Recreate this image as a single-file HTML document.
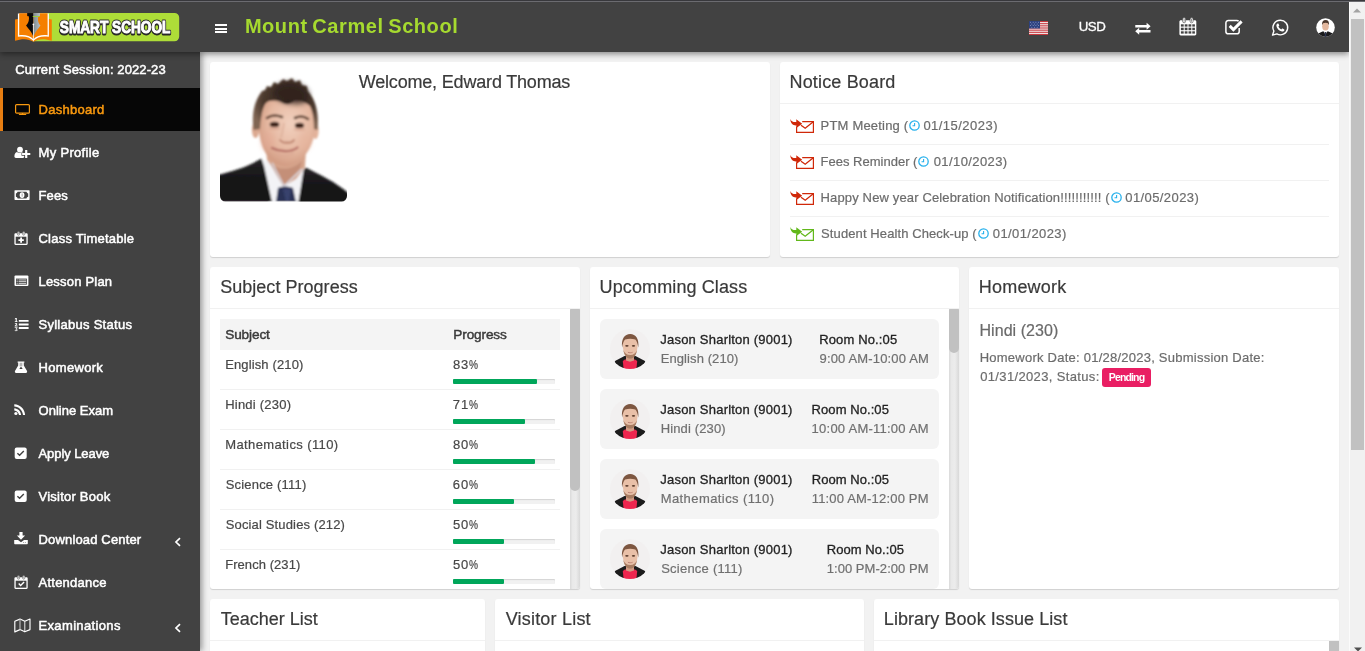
<!DOCTYPE html>
<html lang="en">
<head>
<meta charset="utf-8">
<title>Smart School : Mount Carmel School</title>
<style>
*{box-sizing:border-box;margin:0;padding:0}
html,body{width:1365px;height:651px;overflow:hidden;background:#f2f2f2}
body{font-family:"Liberation Sans",Arial,sans-serif;font-size:13px;color:#444;position:relative;line-height:18px}
ul{list-style:none}
a{text-decoration:none;color:inherit}
svg{display:block;overflow:visible}
.abs{position:absolute}
.edge{position:absolute;left:0;top:0;width:1365px;height:2px;background:linear-gradient(#38383c 0,#38383c 50%,#6b6b70 50%,#6b6b70 100%);z-index:50}
/* header */
.main-header{position:absolute;left:0;top:2px;width:1349px;height:50px;background:#424242;z-index:30;box-shadow:0 2px 6px rgba(0,0,0,.45)}
.logo{position:absolute;left:14px;top:9px;width:166px;height:32px}
.toggle{position:absolute;left:215px;top:22px;width:12px;height:10px}
.toggle i{display:block;height:2px;background:#fff;margin-bottom:1.500px}
.school{position:absolute;left:244.200px;top:11.100px;height:26px;line-height:26px;font-size:20px;font-weight:700;color:#a6da2f;white-space:nowrap;letter-spacing:.6px;word-spacing:-1.400px}
.usd{position:absolute;left:1078px;top:14.600px;line-height:20px;font-size:13.3px;color:#fff;white-space:nowrap;-webkit-text-stroke:.3px #fff}
.main-header svg.ti{position:absolute}
/* sidebar */
.main-sidebar{position:absolute;left:0;top:52px;width:200px;height:599px;background:#424242;z-index:20;box-shadow:2px 0 6px rgba(0,0,0,.4)}
.session{position:absolute;left:15px;top:8px;line-height:20px;font-size:13px;color:#fff;white-space:nowrap;-webkit-text-stroke:.5px #fff}
.sidebar-menu{position:absolute;left:0;top:36px;width:200px}
.sidebar-menu li{position:relative;height:43px}
.sidebar-menu li a{display:block;height:43px;line-height:43px;color:#fff;white-space:nowrap;font-size:13px}
.sidebar-menu li svg.ic{position:absolute;left:13px;top:13px}
.sidebar-menu li span.t{position:absolute;left:38.500px;top:0;-webkit-text-stroke:.5px currentColor;letter-spacing:.15px}
.sidebar-menu li.active{background:#060606}
.sidebar-menu li.active:before{content:"";position:absolute;left:0;top:0;width:3px;height:43px;background:#e67e12}
.sidebar-menu li.active a{color:#f9990f}
.sidebar-menu li svg.chev{position:absolute;left:173.500px;top:18.800px}
/* content */
.box{position:absolute;background:#fff;border-radius:3px;box-shadow:0 1px 1px rgba(0,0,0,.14);overflow:hidden}
.box-header{position:absolute;left:0;top:0;right:0;height:42px;border-bottom:1px solid #f1f1f1}
.box-title{position:absolute;left:10px;top:9px;font-size:18px;line-height:22px;font-weight:400;color:#3a3a3a;-webkit-text-stroke:.2px #3a3a3a;white-space:nowrap}
#welcome{left:148px;top:9px}
.muted{color:#707070}
.sb{position:absolute;background:linear-gradient(90deg,#dadada 0,#e9e9e9 25%,#ececec 60%,#d8d8d8 100%);width:10px}
.sb i{position:absolute;left:0;top:0;width:10px;background:#c1c1c1;border-radius:1px 1px 5px 5px}
/* notice */
.notice{position:absolute;left:10px;top:46.700px;width:539px}
.notice li{position:relative;height:36px;border-bottom:1px solid #f1f1f1;color:#6c6c6c;-webkit-text-stroke:.2px #6c6c6c;font-size:13px;line-height:36px;white-space:nowrap}
.notice li:last-child{border-bottom:0}
.notice li svg.env{position:absolute;left:0;top:10px}
.notice li .nt{position:absolute;left:30.600px;top:-1.200px}
.notice li svg.clk{display:inline-block;vertical-align:-1.8px;margin:0 2.800px 0 .9px}
/* subject table */
.tbl{position:absolute;left:10px;top:52px;width:340px;font-size:13px}
.tbl .th{position:relative;height:31px;background:#f4f4f4;font-size:13.600px;color:#3a3a3a;-webkit-text-stroke:.45px #3a3a3a}
.tbl .tr{position:relative;height:40px;border-bottom:1px solid #f1f1f1;color:#484848;-webkit-text-stroke:.2px #484848}
.tbl span{position:absolute;top:5px;line-height:19px;white-space:nowrap}
.tbl .th span{top:6px}
.tbl .c1{left:5px}
.tbl .c2{left:233.500px}
.tbl .pc{display:inline-block;font-style:normal;transform:scaleX(.78);transform-origin:0 50%;margin-right:-2.5px}
.progress{position:absolute;left:233px;top:29px;width:102px;height:5px;background:#f1f1f1;border-radius:1px;box-shadow:inset 0 1px 1px rgba(0,0,0,.12)}
.progress i{display:block;height:5px;background:#00a65a;border-radius:1px}
/* classes */
.cls{position:absolute;left:10px;width:339px;height:60px;background:#f4f4f4;border-radius:6px}
.cls svg.av{position:absolute;left:10px;top:10px}
.cls span{position:absolute;white-space:nowrap;line-height:19px;font-size:13px}
.cls .n{left:60.500px;top:10.500px;color:#222;-webkit-text-stroke:.3px #222}
.cls .s{left:60.500px;top:29.500px;color:#707070;-webkit-text-stroke:.2px #707070}
.cls .rt{position:absolute;top:0}
.cls .r{left:0;top:10.500px;color:#222;-webkit-text-stroke:.3px #222}
.cls .tm{left:0;top:29.500px;color:#707070;-webkit-text-stroke:.2px #707070}
/* homework */
.hw-t{position:absolute;left:10.500px;top:53.600px;font-size:16px;line-height:20px;color:#6a6a6a;-webkit-text-stroke:.2px #6a6a6a;white-space:nowrap}
.hw-d{position:absolute;left:10.500px;top:81px;width:340px;height:40px;font-size:13px;color:#6c6c6c;-webkit-text-stroke:.2px #6c6c6c;white-space:nowrap}
.hw-d .l1{position:absolute;left:0;top:0;line-height:19px}
.hw-d .l2{position:absolute;left:0;top:19px;line-height:19px}
.label{position:absolute;left:122.500px;top:20.300px;width:49px;height:19px;line-height:19px;text-align:center;font-size:10.500px;color:#fff;-webkit-text-stroke:0 transparent;background:#e91e63;border-radius:3px}
.label b{font-weight:700;-webkit-text-stroke:0 transparent}
</style>
</head>
<body>
<div class="edge"></div>
<svg width="0" height="0" style="position:absolute"><defs><clipPath id="cpt"><circle cx="20" cy="20" r="20"/></clipPath><filter id="blt" x="-10%" y="-10%" width="120%" height="120%"><feGaussianBlur stdDeviation=".55"/></filter></defs></svg>

<header class="main-header">
  <a class="logo" href="#">
    <svg class="abs" style="left:0;top:0" width="166" height="32" viewBox="0 0 166 32">
      <defs><linearGradient id="nib" x1="0" y1="0" x2="1" y2="0"><stop offset="0" stop-color="#7f8a8e"/><stop offset="1" stop-color="#b4c0c5"/></linearGradient></defs>
      <path d="M19 1.900h141.500a4.700 4.700 0 0 1 4.700 4.700v19a4.700 4.700 0 0 1-4.700 4.700h-141.500z" fill="#aedd38"/>
      <path d="M1 8.600l3-.6h30.800l3 .6v21.200c-7-2.400-13.500-2.300-18.400.9-4.900-3.200-11.400-3.300-18.400-.9z" fill="#f57f00"/>
      <path d="M3.900 2.500h31v23.300c-6.500-1-11.700 0-15.500 4-3.800-4-9-5-15.500-4z" fill="#fff"/>
      <path d="M5.200 2.200h8.300l5.900.2 5.900-.2h8.300v22.100c-6-.7-10.700.6-14.200 3.900-3.500-3.300-8.200-4.600-14.200-3.900z" fill="#f57f00"/>
      <path d="M13.200 2.200h6.200v22.500l-.6-.3c-.7-2-1.700-3.700-3-5.200-1.200-1.500-2.500-3.100-3.750-4.700 1.600-1.600 2.700-3.400 2.950-7 0-1.700-.6-3.300-1.500-4.700z" fill="#0a0a0a"/>
      <path d="M26 2.200h-6.600v22.500l.6-.3c.7-2 1.600-3.700 2.800-5.200 1.200-1.500 2.500-3.100 3.600-4.700-1.500-1.600-2.400-3.400-2.500-7 .1-1.700.7-3.300 1.800-4.700z" fill="url(#nib)"/>
      <rect x="13.200" y="2.200" width="6.200" height="2.900" fill="#0a0a0a"/><rect x="19.400" y="2.200" width="6.500" height="2.900" fill="url(#nib)"/><path d="M18.700 5.500h6.800" stroke="#9fd533" stroke-width=".9"/>
      <path d="M19.400 13.500v16.700" stroke="#fff" stroke-width=".8"/>
      <circle cx="19.400" cy="13.300" r=".9" fill="#fff"/>
      <g font-family="Liberation Sans, Arial, sans-serif" font-weight="700" font-size="16.200">
        <text x="45.800" y="22.800" textLength="110.600" lengthAdjust="spacingAndGlyphs" fill="#2a2a2a" stroke="#2a2a2a" stroke-width="2.800" stroke-linejoin="round">SMART SCHOOL</text>
        <text x="45.800" y="21.900" textLength="110.600" lengthAdjust="spacingAndGlyphs" fill="#2a2a2a" stroke="#2a2a2a" stroke-width="2.800" stroke-linejoin="round">SMART SCHOOL</text>
        <text x="45.800" y="21.900" textLength="110.600" lengthAdjust="spacingAndGlyphs" fill="#fff" stroke="#fff" stroke-width=".95">SMART SCHOOL</text>
      </g>
    </svg>
  </a>
  <a class="toggle" href="#"><i></i><i></i><i></i></a>
  <span class="school" style="letter-spacing:0.56px;margin-left:0.7px">Mount Carmel School</span>
  <svg class="ti" style="left:1029px;top:19px" width="19" height="14" viewBox="0 0 19 14">
    <rect width="19" height="14" fill="#f3f3f3"/>
    <g fill="#c8363c"><rect y="0" width="19" height="1.100"/><rect y="2.150" width="19" height="1.100"/><rect y="4.300" width="19" height="1.100"/><rect y="6.450" width="19" height="1.100"/><rect y="8.600" width="19" height="1.100"/><rect y="10.750" width="19" height="1.100"/><rect y="12.900" width="19" height="1.100"/></g>
    <rect width="11" height="7.500" fill="#2d4280"/>
    <g fill="#8f9cc4"><circle cx="1.500" cy="1.200" r=".5"/><circle cx="4.200" cy="1.200" r=".5"/><circle cx="6.900" cy="1.200" r=".5"/><circle cx="9.500" cy="1.200" r=".5"/><circle cx="2.800" cy="2.900" r=".5"/><circle cx="5.500" cy="2.900" r=".5"/><circle cx="8.200" cy="2.900" r=".5"/><circle cx="1.500" cy="4.600" r=".5"/><circle cx="4.200" cy="4.600" r=".5"/><circle cx="6.900" cy="4.600" r=".5"/><circle cx="9.500" cy="4.600" r=".5"/><circle cx="2.800" cy="6.200" r=".5"/><circle cx="5.500" cy="6.200" r=".5"/><circle cx="8.200" cy="6.200" r=".5"/></g>
  </svg>
  <span class="usd" style="letter-spacing:-0.45px;margin-left:0.7px">USD</span>
  <svg class="ti" style="left:1134.7px;top:19.6px" width="15.8" height="13" viewBox="0 0 17 14"><g fill="#fff"><path d="M.3 3.100h12.200v-2.400l4.300 3.800-4.300 3.800v-2.400h-12.200z"/><path d="M16.700 8.600h-12.200v-2.400l-4.300 3.800 4.300 3.800v-2.400h12.200z"/></g></svg>
  <svg class="ti" style="left:1179px;top:15px" width="18" height="19" viewBox="0 0 18 19"><path d="M1.800 3.300h14.100c.8 0 1.400.6 1.400 1.400v12.300c0 .8-.6 1.400-1.400 1.400h-14.100c-.8 0-1.400-.6-1.400-1.400v-12.300c0-.8.600-1.400 1.400-1.400z" fill="#fff"/><g fill="#424242"><rect x="1.900" y="7.300" width="2.800" height="2.300"/><rect x="5.700" y="7.300" width="2.800" height="2.300"/><rect x="9.500" y="7.300" width="2.800" height="2.300"/><rect x="13.300" y="7.300" width="2.600" height="2.300"/><rect x="1.900" y="10.700" width="2.800" height="2.500"/><rect x="5.700" y="10.700" width="2.800" height="2.500"/><rect x="9.500" y="10.700" width="2.800" height="2.500"/><rect x="13.300" y="10.700" width="2.600" height="2.500"/><rect x="1.900" y="14.300" width="2.800" height="2.300"/><rect x="5.700" y="14.300" width="2.800" height="2.300"/><rect x="9.500" y="14.300" width="2.800" height="2.300"/><rect x="13.300" y="14.300" width="2.600" height="2.300"/></g><rect x="3.600" y=".6" width="3" height="5.200" rx="1.500" fill="#fff" stroke="#424242" stroke-width=".6"/><rect x="11.100" y=".6" width="3" height="5.200" rx="1.500" fill="#fff" stroke="#424242" stroke-width=".6"/><rect x="4.700" y="1.600" width=".8" height="3.100" fill="#777"/><rect x="12.200" y="1.600" width=".8" height="3.100" fill="#777"/></svg>
  <svg class="ti" style="left:1225.3px;top:17.3px" width="19" height="16" viewBox="0 0 19 16"><path d="M13.600 2.300c-.4-.5-1-.8-1.800-.8h-8.500c-1.400 0-2.400 1-2.400 2.400v8.500c0 1.400 1 2.400 2.400 2.400h8.500c1.400 0 2.400-1 2.400-2.400v-3.400" fill="none" stroke="#fff" stroke-width="1.500"/><path d="M4.700 6.900l3.700 3.700 8.200-8.200" fill="none" stroke="#fff" stroke-width="2.9"/></svg>
  <svg class="ti" style="left:1271px;top:16.500px" width="18" height="18" viewBox="0 0 18 18"><path d="M9.300 1.200a7.300 7.300 0 0 0-6.400 10.900l-1.400 4.100 4.400-1.300a7.300 7.300 0 1 0 3.400-13.700z" fill="none" stroke="#fff" stroke-width="1.400" stroke-linejoin="round"/><path d="M6.500 4.600c.3-.3.800-.3 1 .1l.7 1.500c.1.300.1.600-.2.800l-.6.600c.5 1.200 1.600 2.300 2.800 2.800l.7-.7c.2-.2.500-.3.800-.1l1.500.8c.3.200.4.600.2.900-.5.900-1.400 1.400-2.400 1.200-3.100-.6-5.200-3.200-5.600-5.600-.1-.9.300-1.700 1.100-2.300z" fill="#fff"/></svg>
  <svg class="ti" style="left:1316px;top:15.500px" width="19" height="19" viewBox="0 0 19 19"><defs><clipPath id="cpa"><circle cx="9.500" cy="9.500" r="9.300"/></clipPath></defs><g clip-path="url(#cpa)"><rect width="19" height="19" fill="#fff"/><path d="M0 19v-2.500l6.500-3h6l6.500 3v2.500z" fill="#1a1a1c"/><path d="M7.600 12.500l1.900 4.500 1.900-4.500z" fill="#fff"/><path d="M9 14h1l.4 5h-1.800z" fill="#2b3350"/><ellipse cx="9.500" cy="8.300" rx="3.300" ry="4.300" fill="#e3b79d"/><path d="M6 7.300c-.3-3.600 1.200-5.300 3.600-5.300 2.500 0 3.800 1.700 3.400 5.300-.6-1.900-1.100-2.600-3.400-2.600-2.400 0-3 .7-3.600 2.600z" fill="#4b372b"/></g></svg>
</header>

<aside class="main-sidebar">
  <div class="session" style="letter-spacing:0.10px;margin-left:0.2px">Current Session: 2022-23</div>
  <ul class="sidebar-menu">
    <li class="active"><a href="#"><svg class="ic" width="18" height="17" viewBox="0 0 18 17"><rect x="2.6" y="3.6" width="13.8" height="8.6" rx="1" fill="none" stroke="currentColor" stroke-width="1.2"/><rect x="8.9" y="12" width="1.3" height="1.4" fill="currentColor"/><rect x="5.8" y="13.1" width="7.5" height="1" rx=".4" fill="currentColor"/></svg><span class="t" style="letter-spacing:0.28px">Dashboard</span></a></li>
    <li><a href="#"><svg class="ic" width="18" height="17" viewBox="0 0 18 17"><circle cx="7" cy="5.700" r="2.900" fill="currentColor"/><path d="M1.4 12.6c0-2.6 1-4.3 2.6-4.6.7.6 1.5.9 2.4.9s1.700-.3 2.400-.9c1.600.3 2.600 2 2.600 4.600 0 .9-.6 1.400-1.500 1.400h-7c-.9 0-1.500-.5-1.500-1.400z" fill="currentColor"/><path d="M12.100 6.100h2.200v2.900h3v2.100h-3v2.900h-2.200v-2.900h-3v-2.100h3z" fill="currentColor" stroke="#424242" stroke-width="1.200" paint-order="stroke"/></svg><span class="t" style="letter-spacing:0.32px">My Profile</span></a></li>
    <li><a href="#"><svg class="ic" width="18" height="17" viewBox="0 0 18 17"><rect x="1.5" y="3.200" width="15.100" height="9.700" rx=".6" fill="currentColor"/><path d="M4.600 4.700h8.900c.2.900.8 1.500 1.700 1.700v3.300c-.9.200-1.500.8-1.700 1.700h-8.900c-.2-.9-.8-1.500-1.700-1.700v-3.300c.9-.2 1.500-.8 1.700-1.700z" fill="#424242"/><ellipse cx="9.050" cy="8.050" rx="2.400" ry="2.900" fill="currentColor"/><rect x="8.700" y="6.500" width=".8" height="3.100" fill="#8a8a8a"/></svg><span class="t">Fees</span></a></li>
    <li><a href="#"><svg class="ic" width="18" height="17" viewBox="0 0 18 17"><path d="M2.600 3.200h10.900c.7 0 1.200.5 1.200 1.200v9.400c0 .7-.5 1.200-1.200 1.200h-10.900c-.7 0-1.200-.5-1.200-1.200v-9.400c0-.7.5-1.200 1.200-1.200z" fill="currentColor"/><rect x="2.700" y="6.700" width="10.700" height="7" fill="#424242"/><rect x="4.400" y="1.400" width="2.200" height="3.800" rx="1.100" fill="currentColor" stroke="#424242" stroke-width=".5"/><rect x="9.600" y="1.400" width="2.200" height="3.800" rx="1.100" fill="currentColor" stroke="#424242" stroke-width=".5"/><rect x="5.200" y="1.900" width=".7" height="2.500" rx=".3" fill="#8e8e8e"/><rect x="10.400" y="1.900" width=".7" height="2.500" rx=".3" fill="#8e8e8e"/><path d="M7.200 7.600h1.800v1.700h1.800v1.700h-1.800v1.700h-1.800v-1.700h-1.800v-1.700h1.800z" fill="currentColor"/></svg><span class="t" style="letter-spacing:0.22px">Class Timetable</span></a></li>
    <li><a href="#"><svg class="ic" width="18" height="17" viewBox="0 0 18 17"><rect x="1.500" y="2.500" width="13.900" height="10.500" rx="1" fill="currentColor"/><rect x="3" y="5.600" width="10.900" height="6" fill="#424242"/><g fill="currentColor" opacity=".85"><rect x="5.600" y="6.500" width="7.600" height=".9"/><rect x="5.600" y="8.200" width="7.600" height=".9"/><rect x="5.600" y="9.900" width="7.600" height=".9"/><rect x="3.600" y="6.500" width="1.100" height=".9"/><rect x="3.600" y="8.200" width="1.100" height=".9"/><rect x="3.600" y="9.900" width="1.100" height=".9"/></g></svg><span class="t" style="letter-spacing:0.20px">Lesson Plan</span></a></li>
    <li><a href="#"><svg class="ic" width="18" height="17" viewBox="0 0 18 17"><g fill="currentColor"><rect x="5.800" y="3.900" width="9.800" height="1.900" rx=".3"/><rect x="5.800" y="7.500" width="9.800" height="1.900" rx=".3"/><rect x="5.800" y="11.100" width="9.800" height="1.900" rx=".3"/><path d="M2.700 1.900h1.100v3.300h.7v.8h-2.700v-.8h.9v-2.100l-.8.3v-.8z"/><path d="M1.700 7.600c.4-.6 1.900-.7 2.400-.1.500.6.100 1.300-1 2.100h1.500v.8h-2.900v-.7c.9-.7 1.500-1.300 1.300-1.600-.2-.3-.7-.1-.9.200z" opacity=".9"/><path d="M1.700 11.200h2.800v.7l-.9 1c.7.200 1 .6 1 1.100 0 .8-.7 1.200-1.600 1.200-.6 0-1.100-.2-1.400-.5l.4-.7c.5.500 1.600.5 1.600 0 0-.4-.5-.5-1.100-.5v-.6l.8-.9h-1.600z" opacity=".9"/></g></svg><span class="t" style="letter-spacing:0.27px">Syllabus Status</span></a></li>
    <li><a href="#"><svg class="ic" width="18" height="17" viewBox="0 0 18 17"><path d="M5 2.500h6c.4 0 .6.200.6.500s-.2.600-.6.600h-.2v3l3.100 5.200c.6 1 .1 2.200-1.100 2.200h-9.600c-1.200 0-1.700-1.200-1.100-2.200l3.100-5.200v-3h-.2c-.4 0-.6-.3-.6-.6s.2-.5.600-.5z" fill="currentColor"/><path d="M6.600 3.800h2.800v2.900l.3.500h-3.400l.3-.5z" fill="#b5b5b5"/><path d="M8 7.400l1.700 2.600h-3.400z" fill="#424242"/></svg><span class="t" style="letter-spacing:0.32px">Homework</span></a></li>
    <li><a href="#"><svg class="ic" width="18" height="17" viewBox="0 0 18 17"><circle cx="2.900" cy="11.500" r="1.600" fill="currentColor"/><path d="M1.300 6.300v2.100c2.500.1 4.500 2.100 4.700 4.700h2.100c-.2-3.700-3.100-6.600-6.800-6.800z" fill="currentColor"/><path d="M1.300 2.300v2.100c4.700.2 8.500 4 8.700 8.700h2.100c-.2-5.900-4.900-10.600-10.800-10.800z" fill="currentColor"/></svg><span class="t" style="letter-spacing:0.02px">Online Exam</span></a></li>
    <li><a href="#"><svg class="ic" width="18" height="17" viewBox="0 0 18 17"><rect x="1.700" y="2.500" width="12" height="11.500" rx="2" fill="currentColor"/><path d="M4.400 8.200l2.200 2.100 4.200-4.200" fill="none" stroke="#424242" stroke-width="1.400"/></svg><span class="t" style="letter-spacing:-0.07px">Apply Leave</span></a></li>
    <li><a href="#"><svg class="ic" width="18" height="17" viewBox="0 0 18 17"><rect x="1.700" y="2.500" width="12" height="11.500" rx="2" fill="currentColor"/><path d="M4.400 8.200l2.200 2.100 4.200-4.200" fill="none" stroke="#424242" stroke-width="1.400"/></svg><span class="t" style="letter-spacing:0.23px">Visitor Book</span></a></li>
    <li><a href="#"><svg class="ic" width="18" height="17" viewBox="0 0 18 17"><path d="M6.400 1h3.200v3.600h2.500l-4.100 4.200-4.100-4.200h2.500z" fill="currentColor"/><path d="M1.200 9h3.800l3 2.300 3-2.300h3.800v3.500c0 .4-.3.700-.7.700h-12.200c-.4 0-.7-.3-.7-.7z" fill="currentColor"/><rect x="10" y="11.100" width="1.100" height=".7" fill="#8a8a8a"/><rect x="11.900" y="11.100" width="1.100" height=".7" fill="#8a8a8a"/></svg><span class="t" style="letter-spacing:0.16px">Download Center</span><svg class="chev" width="8" height="10" viewBox="0 0 8 10"><path d="M6 1.200L2 5l4 3.800" fill="none" stroke="#fff" stroke-width="1.700"/></svg></a></li>
    <li><a href="#"><svg class="ic" width="18" height="17" viewBox="0 0 18 17"><path d="M2.600 3.200h10.900c.7 0 1.200.5 1.200 1.200v9.400c0 .7-.5 1.200-1.200 1.200h-10.900c-.7 0-1.200-.5-1.200-1.200v-9.400c0-.7.5-1.200 1.200-1.200z" fill="currentColor"/><rect x="2.700" y="6.700" width="10.700" height="7" fill="#424242"/><rect x="4.400" y="1.400" width="2.200" height="3.800" rx="1.100" fill="currentColor" stroke="#424242" stroke-width=".5"/><rect x="9.600" y="1.400" width="2.200" height="3.800" rx="1.100" fill="currentColor" stroke="#424242" stroke-width=".5"/><rect x="5.200" y="1.900" width=".7" height="2.500" rx=".3" fill="#8e8e8e"/><rect x="10.400" y="1.900" width=".7" height="2.500" rx=".3" fill="#8e8e8e"/><path d="M5.200 10.100l1-1 1.400 1.400 3-3 1 1-4 4z" fill="currentColor"/></svg><span class="t" style="letter-spacing:0.25px">Attendance</span></a></li>
    <li><a href="#"><svg class="ic" width="18" height="17" viewBox="0 0 18 17"><path d="M1.800 4.300l5.200-2.200 4.800 2.200 5.200-2.300v10.600l-5.200 2.200-4.800-2.200-5.200 2.300z" fill="none" stroke="currentColor" stroke-width="1.150" stroke-linejoin="round"/><path d="M7 2.300v10.200" stroke="#b8b8b8" stroke-width="1.200"/><path d="M11.800 4.400v10.200" stroke="currentColor" stroke-width="1" opacity=".9"/></svg><span class="t" style="letter-spacing:0.35px">Examinations</span><svg class="chev" width="8" height="10" viewBox="0 0 8 10"><path d="M6 1.200L2 5l4 3.800" fill="none" stroke="#fff" stroke-width="1.700"/></svg></a></li>
  </ul>
</aside>

<main class="content">
  <section class="box" id="b-welcome" style="left:210px;top:62px;width:560px;height:195px">
    <svg class="abs" style="left:10px;top:13px" width="127" height="127" viewBox="0 0 127 127">
      <defs>
        <clipPath id="cps"><path d="M0 0h127v121a5.500 5.500 0 0 1-5.500 5.500h-116a5.500 5.500 0 0 1-5.500-5.500z"/></clipPath>
        <filter id="bl1" x="-10%" y="-10%" width="120%" height="120%"><feGaussianBlur stdDeviation=".9"/></filter>
        <filter id="bl2" x="-20%" y="-20%" width="140%" height="140%"><feGaussianBlur stdDeviation="2.500"/></filter>
        <radialGradient id="skin" cx=".55" cy=".42" r=".62"><stop offset="0" stop-color="#f1d0be"/><stop offset=".6" stop-color="#e6b9a2"/><stop offset="1" stop-color="#cf977e"/></radialGradient>
        <radialGradient id="hairg" cx=".55" cy=".45" r=".6"><stop offset="0" stop-color="#33261f"/><stop offset=".65" stop-color="#4a382d"/><stop offset="1" stop-color="#806553"/></radialGradient>
        <linearGradient id="suitg" x1="0" y1="0" x2="0" y2="1"><stop offset="0" stop-color="#262425"/><stop offset=".4" stop-color="#19181a"/><stop offset="1" stop-color="#121113"/></linearGradient>
      </defs>
      <g clip-path="url(#cps)">
        <rect width="127" height="127" fill="#fff"/>
        <g filter="url(#bl1)">
          <!-- shirt -->
          <path d="M42 84l10 4 12 22 18-16 3 2-5 34h-30z" fill="#f3f3f6"/>
          <!-- neck -->
          <path d="M46 74h40l-1 18-9 12-12 7-8-14-9-12z" fill="#d6a48b"/>
          <path d="M50 88c8 8 22 8 32-2l-2 8-10 11-7 6-7-12z" fill="#c48f78"/>
          <!-- ears -->
          <ellipse cx="35.500" cy="55" rx="3.600" ry="8" fill="#dba88f"/>
          <ellipse cx="95.500" cy="56" rx="3.200" ry="8" fill="#e3b39b"/>
          <!-- face -->
          <path d="M38 40c0-15 12-22 29-22s29 7 29 22c0 15-2 26-8 36s-14 15-22 15-16-5-21-14-7-22-7-37z" fill="url(#skin)"/>
          <!-- cheek / shade -->
          <ellipse cx="48" cy="66" rx="7" ry="10" fill="#e3a994" opacity=".5" filter="url(#bl2)"/>
          <ellipse cx="85" cy="66" rx="6" ry="9" fill="#e6b29c" opacity=".45" filter="url(#bl2)"/>
          <!-- hair -->
          <path d="M33.5 55C31.5 40 34 26 42 16l3-1 2-4 4 1 3-5 4 2 5-5 4 2 5-3 3 4 5-2 2 5 5 1 1 5C96 25 99.5 40 97.5 55L94 54C94 44 93 37 90 31 86 27 80 25 74 26 70 30 65 30 61 27 55 25 50 25 46 28 42 33 41 43 40 54Z" fill="url(#hairg)"/>
          <path d="M58 10c8-5 22-4 30 6 3 6 0 12-8 13-9 1-20-2-26-8-2-4 0-8 4-11z" fill="#2e221c" opacity=".8" filter="url(#bl2)"/>
          <!-- brows -->
          <path d="M47 43c4-3 10-3 15-1M75 43c4-2 9-2 13 1" stroke="#5f4232" stroke-width="2.600" fill="none" stroke-linecap="round"/>
          <!-- eyes -->
          <ellipse cx="54.500" cy="49.500" rx="4.800" ry="2.700" fill="#3f281f"/>
          <ellipse cx="79.500" cy="50.500" rx="4.600" ry="2.700" fill="#3f281f"/>
          <ellipse cx="54.500" cy="53.500" rx="6" ry="1.500" fill="#d9a48e" opacity=".7"/>
          <ellipse cx="79.500" cy="54.500" rx="6" ry="1.500" fill="#d9a48e" opacity=".7"/>
          <!-- nose -->
          <path d="M60 65c2 2.500 5 3 7 2.600 2 .4 5 0 7-2.600" stroke="#bf8570" stroke-width="2" fill="none" stroke-linecap="round"/>
          <path d="M64 48c-1 6-2 11-3 15" stroke="#dcae98" stroke-width="2" fill="none" opacity=".7"/>
          <!-- mouth -->
          <path d="M52 73c4 2 9 3.200 13 3.200 5 0 9-1 12.500-3.700" stroke="#b46a62" stroke-width="2.200" fill="none" stroke-linecap="round"/>
          <path d="M56 79c5 2 12 2 18-1" stroke="#dba693" stroke-width="2" fill="none" opacity=".6"/>
          <!-- collar shadow -->
          <path d="M52 88l12 23 18-17" stroke="#d9d9e0" stroke-width="1.500" fill="none"/>
          <!-- tie -->
          <path d="M58 113c4-2 10-2 15 0l3 14h-20z" fill="#2a3356"/>
          <path d="M63 114l3 13h3l2-13z" fill="#3d4a78" opacity=".7"/>
          <!-- suit -->
          <path d="M-3 100c14-3 30-8 44.500-16.500l2.500 7.500 8 36h-55z" fill="url(#suitg)"/>
          <path d="M83.500 95.500l2-3c12 6 30 14 44.500 27v10h-52l2-12z" fill="url(#suitg)"/>
        </g>
      </g>
    </svg>
    <h3 class="box-title" id="welcome" style="letter-spacing:-0.18px;margin-left:0.7px">Welcome, Edward Thomas</h3>
  </section>

  <section class="box" id="b-notice" style="left:780px;top:62px;width:559px;height:195px">
    <div class="box-header"><h3 class="box-title" style="letter-spacing:0.16px;margin-left:-0.5px">Notice Board</h3></div>
    <ul class="notice">
      <li><svg class="env" width="25" height="15" viewBox="0 0 25 15"><g fill="none" stroke="#d02809" stroke-width="1.200"><path d="M6.600 7.500v5.800h16.800v-10.700h-11.200"/><path d="M11 6.200l4.200 3.100 7.800-6.300" stroke-width="1.300"/></g><path d="M.2-.3c.7 2.5 2.8 3.5 6.1 3.3v-2.7l5.9 4.4-5.8 4.3v-2.6c-3.7.2-5.9-2.1-6.2-6.7z" fill="#d02809"/></svg><span class="nt"><span style="letter-spacing:0.19px">PTM Meeting (</span><svg class="clk" width="11" height="11" viewBox="0 0 11 11"><circle cx="5.500" cy="5.500" r="4.700" fill="none" stroke="#27b1ec" stroke-width="1.300"/><path d="M5.600 2.900v2.900h-2.100" fill="none" stroke="#27b1ec" stroke-width="1.100"/></svg><span style="letter-spacing:0.47px;margin-left:0.4px">01/15/2023)</span></span></li>
      <li><svg class="env" width="25" height="15" viewBox="0 0 25 15"><g fill="none" stroke="#d02809" stroke-width="1.200"><path d="M6.600 7.500v5.800h16.800v-10.700h-11.200"/><path d="M11 6.200l4.200 3.100 7.800-6.300" stroke-width="1.300"/></g><path d="M.2-.3c.7 2.5 2.8 3.5 6.1 3.3v-2.7l5.9 4.4-5.8 4.3v-2.6c-3.7.2-5.9-2.1-6.2-6.7z" fill="#d02809"/></svg><span class="nt"><span>Fees Reminder (</span><svg class="clk" width="11" height="11" viewBox="0 0 11 11"><circle cx="5.500" cy="5.500" r="4.700" fill="none" stroke="#27b1ec" stroke-width="1.300"/><path d="M5.600 2.900v2.900h-2.100" fill="none" stroke="#27b1ec" stroke-width="1.100"/></svg><span style="letter-spacing:0.41px;margin-left:1.6px">01/10/2023)</span></span></li>
      <li><svg class="env" width="25" height="15" viewBox="0 0 25 15"><g fill="none" stroke="#d02809" stroke-width="1.200"><path d="M6.600 7.500v5.800h16.800v-10.700h-11.200"/><path d="M11 6.200l4.200 3.100 7.800-6.300" stroke-width="1.300"/></g><path d="M.2-.3c.7 2.5 2.8 3.5 6.1 3.3v-2.7l5.9 4.4-5.8 4.3v-2.6c-3.7.2-5.9-2.1-6.2-6.7z" fill="#d02809"/></svg><span class="nt"><span style="letter-spacing:0.14px">Happy New year Celebration Notification!!!!!!!!!!! (</span><svg class="clk" width="11" height="11" viewBox="0 0 11 11"><circle cx="5.500" cy="5.500" r="4.700" fill="none" stroke="#27b1ec" stroke-width="1.300"/><path d="M5.600 2.900v2.900h-2.100" fill="none" stroke="#27b1ec" stroke-width="1.100"/></svg><span style="letter-spacing:0.41px;margin-left:0.9px">01/05/2023)</span></span></li>
      <li><svg class="env" width="25" height="15" viewBox="0 0 25 15"><g fill="none" stroke="#62b81b" stroke-width="1.200"><path d="M6.600 7.500v5.800h16.800v-10.700h-11.200"/><path d="M11 6.200l4.200 3.100 7.800-6.300" stroke-width="1.300"/></g><path d="M.2-.3c.7 2.5 2.8 3.5 6.1 3.3v-2.7l5.9 4.4-5.8 4.3v-2.6c-3.7.2-5.9-2.1-6.2-6.7z" fill="#62b81b"/></svg><span class="nt"><span style="letter-spacing:0.10px;margin-left:0.5px">Student Health Check-up (</span><svg class="clk" width="11" height="11" viewBox="0 0 11 11"><circle cx="5.500" cy="5.500" r="4.700" fill="none" stroke="#27b1ec" stroke-width="1.300"/><path d="M5.600 2.900v2.900h-2.100" fill="none" stroke="#27b1ec" stroke-width="1.100"/></svg><span style="letter-spacing:0.41px;margin-left:1.3px">01/01/2023)</span></span></li>
    </ul>
  </section>

  <section class="box" id="b-subject" style="left:210px;top:267px;width:370px;height:322px">
    <div class="box-header"><h3 class="box-title" style="letter-spacing:0.03px;margin-left:0.2px">Subject Progress</h3></div>
    <div class="tbl">
      <div class="th"><span class="c1" style="letter-spacing:-0.11px;margin-left:0.2px">Subject</span><span class="c2" style="letter-spacing:-0.13px;margin-left:-0.2px">Progress</span></div>
      <div class="tr"><span class="c1" style="letter-spacing:0.13px;margin-left:0.2px">English (210)</span><span class="c2" style="letter-spacing:0.79px;margin-left:-0.5px">83<i class="pc">%</i></span><div class="progress"><i style="width:82.4%"></i></div></div>
      <div class="tr"><span class="c1" style="letter-spacing:0.22px;margin-left:0.2px">Hindi (230)</span><span class="c2" style="letter-spacing:0.90px;margin-left:-0.7px">71<i class="pc">%</i></span><div class="progress"><i style="width:71%"></i></div></div>
      <div class="tr"><span class="c1" style="letter-spacing:0.39px;margin-left:0.2px">Mathematics (110)</span><span class="c2" style="letter-spacing:0.79px;margin-left:-0.5px">80<i class="pc">%</i></span><div class="progress"><i style="width:80%"></i></div></div>
      <div class="tr"><span class="c1" style="letter-spacing:0.19px;margin-left:0.7px">Science (111)</span><span class="c2" style="letter-spacing:0.90px;margin-left:-0.7px">60<i class="pc">%</i></span><div class="progress"><i style="width:60%"></i></div></div>
      <div class="tr"><span class="c1" style="letter-spacing:0.15px;margin-left:0.7px">Social Studies (212)</span><span class="c2" style="letter-spacing:0.79px;margin-left:-0.5px">50<i class="pc">%</i></span><div class="progress"><i style="width:50%"></i></div></div>
      <div class="tr"><span class="c1" style="letter-spacing:0.06px;margin-left:0.2px">French (231)</span><span class="c2" style="letter-spacing:0.79px;margin-left:-0.5px">50<i class="pc">%</i></span><div class="progress"><i style="width:50%"></i></div></div>
    </div>
    <div class="sb" style="left:360px;top:42px;height:280px"><i style="height:182px"></i></div>
  </section>

  <section class="box" id="b-class" style="left:590px;top:267px;width:369px;height:322px">
    <div class="box-header"><h3 class="box-title" style="letter-spacing:0.11px;margin-left:-0.4px">Upcomming Class</h3></div>
    <div class="cls" style="top:52px"><svg class="av" width="40" height="40" viewBox="0 0 40 40"><circle cx="20" cy="20" r="20" fill="#f2f0f0"/><g filter="url(#blt)" clip-path="url(#cpt)"><path d="M3 40l2-8 9.500-5h11l9.500 5 2 8z" fill="#1d1b1d"/><path d="M12.800 32l2.200-1.500h10l2.200 1.500-.8 8h-12.800z" fill="#ee2650"/><path d="M16 27h8v4.500l-4 1.300-4-1.300z" fill="#d39c84"/><g transform="translate(-.2 1)"><path d="M13 15c0-6 3-9.500 7.400-9.500s7.400 3.500 7.400 9.500c0 7-3 13-7.400 13s-7.400-6-7.400-13z" fill="#e9c0a8"/><path d="M13.500 20c1 6 3.500 8.600 6.900 8.600s5.900-2.600 6.900-8.600c-1.500 3.500-3.500 5-6.900 5s-5.400-1.500-6.900-5z" fill="#a87c62"/><path d="M12.300 17.500c-1-8.500 2.500-13.500 8.100-13.500s9.100 5 8.100 13.500c-.8-4-1.500-6.500-3-8-3.400-1-6.800-1-10.200 0-1.500 1.500-2.200 4-3 8z" fill="#7d5640"/><ellipse cx="17.100" cy="15.800" rx="1.700" ry=".9" fill="#5a3d2e"/><ellipse cx="23.700" cy="15.800" rx="1.700" ry=".9" fill="#5a3d2e"/><path d="M18.100 22.300c1.500.6 3.200.6 4.700 0" stroke="#b97c6c" stroke-width=".9" fill="none"/></g></g></svg><span class="n" style="letter-spacing:0.21px;margin-left:-0.2px">Jason Sharlton (9001)</span><span class="s" style="letter-spacing:0.09px;margin-left:0.2px">English (210)</span><div class="rt" style="left:219.4px"><span class="r" style="letter-spacing:0.14px;margin-left:-0.2px">Room No.:05</span><span class="tm" style="letter-spacing:0.15px;margin-left:0.2px">9:00 AM-10:00 AM</span></div></div>
    <div class="cls" style="top:122px"><svg class="av" width="40" height="40" viewBox="0 0 40 40"><circle cx="20" cy="20" r="20" fill="#f2f0f0"/><g filter="url(#blt)" clip-path="url(#cpt)"><path d="M3 40l2-8 9.500-5h11l9.500 5 2 8z" fill="#1d1b1d"/><path d="M12.800 32l2.200-1.500h10l2.200 1.500-.8 8h-12.800z" fill="#ee2650"/><path d="M16 27h8v4.500l-4 1.300-4-1.300z" fill="#d39c84"/><g transform="translate(-.2 1)"><path d="M13 15c0-6 3-9.500 7.400-9.500s7.400 3.500 7.400 9.500c0 7-3 13-7.400 13s-7.400-6-7.400-13z" fill="#e9c0a8"/><path d="M13.500 20c1 6 3.500 8.600 6.900 8.600s5.900-2.600 6.900-8.600c-1.500 3.500-3.500 5-6.900 5s-5.400-1.500-6.900-5z" fill="#a87c62"/><path d="M12.300 17.500c-1-8.500 2.500-13.500 8.100-13.500s9.100 5 8.100 13.500c-.8-4-1.500-6.500-3-8-3.400-1-6.800-1-10.200 0-1.500 1.500-2.200 4-3 8z" fill="#7d5640"/><ellipse cx="17.100" cy="15.800" rx="1.700" ry=".9" fill="#5a3d2e"/><ellipse cx="23.700" cy="15.800" rx="1.700" ry=".9" fill="#5a3d2e"/><path d="M18.100 22.300c1.500.6 3.200.6 4.700 0" stroke="#b97c6c" stroke-width=".9" fill="none"/></g></g></svg><span class="n" style="letter-spacing:0.21px;margin-left:-0.2px">Jason Sharlton (9001)</span><span class="s" style="letter-spacing:0.14px;margin-left:0.2px">Hindi (230)</span><div class="rt" style="left:211.8px"><span class="r" style="letter-spacing:0.07px;margin-left:-0.2px">Room No.:05</span><span class="tm" style="letter-spacing:0.24px;margin-left:-0.2px">10:00 AM-11:00 AM</span></div></div>
    <div class="cls" style="top:192px"><svg class="av" width="40" height="40" viewBox="0 0 40 40"><circle cx="20" cy="20" r="20" fill="#f2f0f0"/><g filter="url(#blt)" clip-path="url(#cpt)"><path d="M3 40l2-8 9.500-5h11l9.500 5 2 8z" fill="#1d1b1d"/><path d="M12.800 32l2.200-1.500h10l2.200 1.500-.8 8h-12.800z" fill="#ee2650"/><path d="M16 27h8v4.500l-4 1.300-4-1.300z" fill="#d39c84"/><g transform="translate(-.2 1)"><path d="M13 15c0-6 3-9.500 7.400-9.500s7.400 3.500 7.400 9.500c0 7-3 13-7.400 13s-7.400-6-7.400-13z" fill="#e9c0a8"/><path d="M13.500 20c1 6 3.500 8.600 6.900 8.600s5.900-2.600 6.900-8.600c-1.500 3.500-3.500 5-6.900 5s-5.400-1.500-6.900-5z" fill="#a87c62"/><path d="M12.300 17.500c-1-8.500 2.500-13.500 8.100-13.500s9.100 5 8.100 13.500c-.8-4-1.500-6.500-3-8-3.400-1-6.800-1-10.200 0-1.500 1.500-2.200 4-3 8z" fill="#7d5640"/><ellipse cx="17.100" cy="15.800" rx="1.700" ry=".9" fill="#5a3d2e"/><ellipse cx="23.700" cy="15.800" rx="1.700" ry=".9" fill="#5a3d2e"/><path d="M18.100 22.300c1.500.6 3.200.6 4.700 0" stroke="#b97c6c" stroke-width=".9" fill="none"/></g></g></svg><span class="n" style="letter-spacing:0.21px;margin-left:-0.2px">Jason Sharlton (9001)</span><span class="s" style="letter-spacing:0.42px;margin-left:0.2px">Mathematics (110)</span><div class="rt" style="left:211.9px"><span class="r" style="letter-spacing:0.07px;margin-left:-0.2px">Room No.:05</span><span class="tm" style="letter-spacing:0.18px;margin-left:-0.2px">11:00 AM-12:00 PM</span></div></div>
    <div class="cls" style="top:262px"><svg class="av" width="40" height="40" viewBox="0 0 40 40"><circle cx="20" cy="20" r="20" fill="#f2f0f0"/><g filter="url(#blt)" clip-path="url(#cpt)"><path d="M3 40l2-8 9.500-5h11l9.500 5 2 8z" fill="#1d1b1d"/><path d="M12.800 32l2.200-1.500h10l2.200 1.500-.8 8h-12.800z" fill="#ee2650"/><path d="M16 27h8v4.500l-4 1.300-4-1.300z" fill="#d39c84"/><g transform="translate(-.2 1)"><path d="M13 15c0-6 3-9.500 7.400-9.500s7.400 3.500 7.400 9.500c0 7-3 13-7.400 13s-7.400-6-7.400-13z" fill="#e9c0a8"/><path d="M13.500 20c1 6 3.500 8.600 6.900 8.600s5.900-2.600 6.900-8.600c-1.500 3.500-3.500 5-6.900 5s-5.400-1.500-6.900-5z" fill="#a87c62"/><path d="M12.300 17.500c-1-8.500 2.500-13.500 8.100-13.500s9.100 5 8.100 13.500c-.8-4-1.500-6.500-3-8-3.400-1-6.800-1-10.200 0-1.500 1.500-2.200 4-3 8z" fill="#7d5640"/><ellipse cx="17.100" cy="15.800" rx="1.700" ry=".9" fill="#5a3d2e"/><ellipse cx="23.700" cy="15.800" rx="1.700" ry=".9" fill="#5a3d2e"/><path d="M18.100 22.300c1.500.6 3.200.6 4.700 0" stroke="#b97c6c" stroke-width=".9" fill="none"/></g></g></svg><span class="n" style="letter-spacing:0.21px;margin-left:-0.2px">Jason Sharlton (9001)</span><span class="s" style="letter-spacing:0.23px;margin-left:0.7px">Science (111)</span><div class="rt" style="left:226.9px"><span class="r" style="letter-spacing:0.07px;margin-left:-0.2px">Room No.:05</span><span class="tm" style="letter-spacing:0.05px;margin-left:-0.2px">1:00 PM-2:00 PM</span></div></div>
    <div class="sb" style="left:359px;top:42px;height:280px"><i style="height:44px"></i></div>
  </section>

  <section class="box" id="b-home" style="left:969px;top:267px;width:370px;height:322px">
    <div class="box-header"><h3 class="box-title" style="letter-spacing:0.19px;margin-left:-0.2px">Homework</h3></div>
    <div class="hw-t" style="letter-spacing:0.05px">Hindi (230)</div>
    <div class="hw-d"><span class="l1" style="letter-spacing:0.24px;margin-left:0.2px">Homework Date: 01/28/2023, Submission Date:</span><span class="l2" style="letter-spacing:0.35px;margin-left:0.7px">01/31/2023, Status:</span><span class="label"><b style="letter-spacing:-0.86px">Pending</b></span></div>
  </section>

  <section class="box" id="b-teacher" style="left:210px;top:599px;width:275px;height:80px">
    <div class="box-header"><h3 class="box-title" style="margin-left:0.7px">Teacher List</h3></div>
  </section>
  <section class="box" id="b-visitor" style="left:495px;top:599px;width:369px;height:80px">
    <div class="box-header"><h3 class="box-title" style="letter-spacing:0.20px;margin-left:0.7px">Visitor List</h3></div>
  </section>
  <section class="box" id="b-library" style="left:874px;top:599px;width:465px;height:80px">
    <div class="box-header"><h3 class="box-title" style="letter-spacing:0.07px;margin-left:-0.2px">Library Book Issue List</h3></div>
    <div class="sb" style="left:455px;top:42px;height:40px"><i style="height:40px;border-radius:0"></i></div>
  </section>
</main>

<div class="scrollbar abs" style="left:1349px;top:2px;width:16px;height:649px;background:#f1f1f1;z-index:40;border-left:1px solid #fbfbfb">
  <div class="abs" style="left:1px;top:17px;width:13px;height:431px;background:#c1c1c1"></div>
  <svg class="abs" style="left:3px;top:6.200px" width="8" height="5" viewBox="0 0 8 5"><path d="M0 4.500L4 .5L8 4.500z" fill="#a3a3a3"/></svg>
  <svg class="abs" style="left:3.500px;top:644.500px" width="8" height="5" viewBox="0 0 8 5"><path d="M0 .5L4 4.500L8 .5z" fill="#505050"/></svg>
</div>
</body>
</html>
